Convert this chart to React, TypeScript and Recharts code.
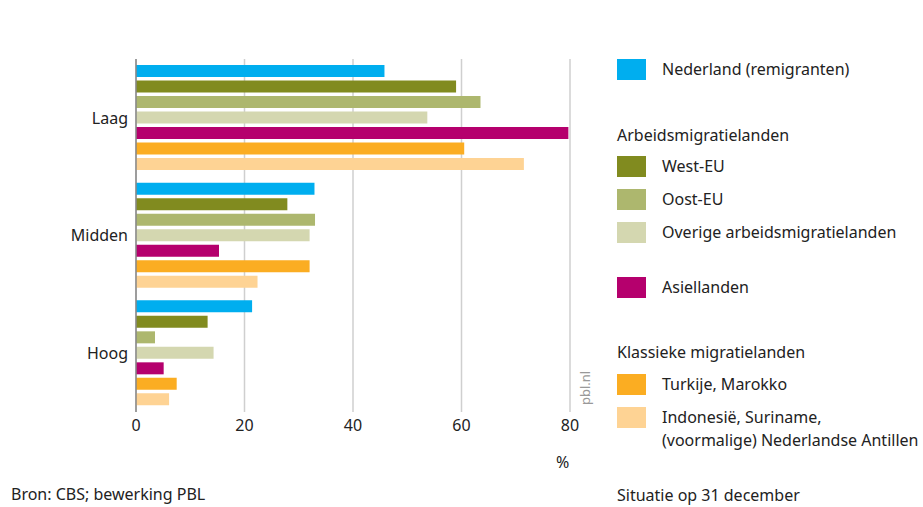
import { BarChart, Bar, XAxis, YAxis, CartesianGrid } from 'recharts';

const categories = ['Laag', 'Midden', 'Hoog'];
const nederland = [45.8, 32.9, 21.4];
const westEU = [59.0, 27.9, 13.2];
const oostEU = [63.5, 33.0, 3.5];
const overigeArbeid = [53.7, 32.0, 14.3];
const asiellanden = [79.7, 15.3, 5.1];
const turkijeMarokko = [60.5, 32.0, 7.5];
const indonesieSuriname = [71.5, 22.4, 6.1];
const xTicks = [0, 20, 40, 60, 80];

const series = [
  { key: 'nederland', label: 'Nederland (remigranten)', color: '#00aeef', values: nederland },
  { key: 'westEU', label: 'West-EU', color: '#818b1f', values: westEU },
  { key: 'oostEU', label: 'Oost-EU', color: '#adb76e', values: oostEU },
  { key: 'overige', label: 'Overige arbeidsmigratielanden', color: '#d4d7b0', values: overigeArbeid },
  { key: 'asiel', label: 'Asiellanden', color: '#b5006d', values: asiellanden },
  { key: 'turkije', label: 'Turkije, Marokko', color: '#fbad22', values: turkijeMarokko },
  { key: 'indonesie', label: 'Indonesië, Suriname,', color: '#fed394', values: indonesieSuriname },
];

const chartData = categories.map((name, i) => {
  const row: Record<string, string | number> = { name };
  series.forEach((s) => {
    row[s.key] = s.values[i];
  });
  return row;
});

const font = '"Noto Sans", sans-serif';
const textColor = '#222';

const Swatch = ({ top, color }: { top: number; color: string }) => (
  <div style={{ position: 'absolute', left: 617, top, width: 29, height: 21, background: color }} />
);

const Txt = ({ left, top, children, size = 16, color = textColor }: any) => (
  <div
    style={{
      position: 'absolute',
      left,
      top,
      fontSize: size,
      lineHeight: '22px',
      color,
      whiteSpace: 'nowrap',
      transform: 'translateY(-50%)',
    }}
  >
    {children}
  </div>
);

export default function App() {
  return (
    <div
      style={{
        position: 'absolute',
        left: 0,
        top: 0,
        width: 923,
        height: 507,
        background: '#fff',
        fontFamily: font,
        overflow: 'hidden',
      }}
    >
      <BarChart
        width={923}
        height={507}
        data={chartData}
        layout="vertical"
        margin={{ top: 59, right: 353, bottom: 65, left: 0 }}
        barCategoryGap={6}
        barGap={3.5}
      >
        <CartesianGrid horizontal={false} stroke="#cfcfcf" strokeWidth={1.5} />
        <XAxis
          type="number"
          domain={[0, 80]}
          ticks={xTicks}
          axisLine={false}
          tickLine={false}
          height={30}
          tick={{ fontSize: 16, fill: textColor, fontFamily: font }}
        />
        <YAxis
          type="category"
          dataKey="name"
          width={136}
          axisLine={{ stroke: '#888', strokeWidth: 1.5 }}
          tickLine={false}
          tick={{ fontSize: 16, fill: textColor, fontFamily: font }}
        />
        {series.map((s) => (
          <Bar key={s.key} dataKey={s.key} fill={s.color} isAnimationActive={false} />
        ))}
      </BarChart>

      {/* axis unit and watermark */}
      <Txt left={556} top={462} size={16}>%</Txt>
      <div
        style={{
          position: 'absolute',
          left: 585,
          top: 388,
          fontSize: 13,
          color: '#999',
          transform: 'translate(-50%, -50%) rotate(-90deg)',
          whiteSpace: 'nowrap',
        }}
      >
        pbl.nl
      </div>

      {/* legend */}
      <Swatch top={59} color={series[0].color} />
      <Txt left={662} top={69}>{series[0].label}</Txt>

      <Txt left={617} top={135}>Arbeidsmigratielanden</Txt>
      <Swatch top={156} color={series[1].color} />
      <Txt left={662} top={166}>{series[1].label}</Txt>
      <Swatch top={189} color={series[2].color} />
      <Txt left={662} top={199}>{series[2].label}</Txt>
      <Swatch top={222} color={series[3].color} />
      <Txt left={662} top={232}>{series[3].label}</Txt>

      <Swatch top={277} color={series[4].color} />
      <Txt left={662} top={287}>{series[4].label}</Txt>

      <Txt left={617} top={352}>Klassieke migratielanden</Txt>
      <Swatch top={374} color={series[5].color} />
      <Txt left={662} top={384}>{series[5].label}</Txt>
      <Swatch top={407} color={series[6].color} />
      <Txt left={662} top={417}>{series[6].label}</Txt>
      <Txt left={662} top={440}>(voormalige) Nederlandse Antillen</Txt>

      <Txt left={11} top={494} size={16}>Bron: CBS; bewerking PBL</Txt>
      <Txt left={617} top={495} size={16}>Situatie op 31 december</Txt>
    </div>
  );
}
